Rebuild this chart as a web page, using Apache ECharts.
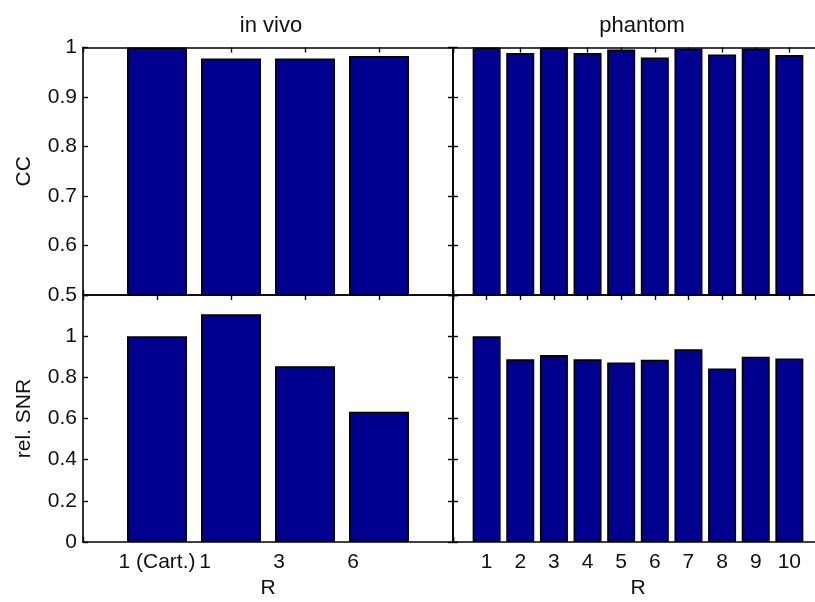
<!DOCTYPE html>
<html>
<head>
<meta charset="utf-8">
<script src="https://cdn.jsdelivr.net/npm/echarts@6/dist/echarts.min.js"></script>
<style>html,body{margin:0;padding:0;background:#fff;}#c{width:815px;height:602px;}</style>
</head>
<body>
<div id="c"></div>
<script>
// ---- data ----
const inVivoLabels = ['1 (Cart.)', '1', '3', '6'];
const inVivoCC = [1.0, 0.978, 0.978, 0.983];
const inVivoSNR = [1.0, 1.107, 0.854, 0.633];
const phantomLabels = ['1', '2', '3', '4', '5', '6', '7', '8', '9', '10'];
const phantomCC = [1.0, 0.989, 1.0, 0.989, 0.996, 0.980, 0.998, 0.986, 0.998, 0.985];
const phantomSNR = [1.0, 0.888, 0.908, 0.888, 0.872, 0.886, 0.937, 0.843, 0.900, 0.892];
const panelTitles = ['in vivo', 'phantom'];
const yNames = ['CC', 'rel. SNR'];
const xName = 'R';

// ---- style ----
const FONT = 'Liberation Sans, Arial, sans-serif';
const TXT = '#111';
const BAR = '#00008f';
const LINE = {show: true, onZero: false, lineStyle: {color: '#000', width: 1.6}};
const TICK = {show: true, inside: true, length: 5, lineStyle: {color: '#000', width: 1.4}};

const grids = [
  {left: 83, top: 47.5, width: 370, height: 247.5, outerBoundsMode: 'none'},
  {left: 453, top: 47.5, width: 370, height: 247.5, outerBoundsMode: 'none'},
  {left: 83, top: 295, width: 370, height: 247, outerBoundsMode: 'none'},
  {left: 453, top: 295, width: 370, height: 247, outerBoundsMode: 'none'}
];

const xAxis = [];
const yAxis = [];
const series = [];

function fmtY(v) { return String(+v.toFixed(1)); }

function addPanel(gi, labels, values, opts) {
  const n = labels.length;
  const xb = {
    type: 'value', gridIndex: gi, min: 0, max: n + 1, interval: 1, position: 'bottom',
    axisLine: LINE, axisTick: TICK, splitLine: {show: false},
    axisLabel: {show: !!opts.xLabels, margin: 10, fontFamily: FONT, fontSize: 21, color: TXT,
      formatter: function (v) {
        if (v < 1 || v > n) return '';
        const l = labels[v - 1];
        if (opts.shift && v > 1) return '{s|' + l + '}';
        return l;
      },
      rich: {s: {fontFamily: FONT, fontSize: 21, color: TXT, padding: [0, 52, 0, 0]}}
    }
  };
  if (opts.xLabels) {
    xb.name = xName; xb.nameLocation = 'middle'; xb.nameGap = 36;
    xb.nameTextStyle = {fontFamily: FONT, fontSize: 21, color: TXT};
  }
  xAxis.push(xb);
  xAxis.push({
    type: 'value', gridIndex: gi, min: 0, max: n + 1, interval: 1, position: 'top',
    axisLine: LINE, axisTick: TICK, splitLine: {show: false}, axisLabel: {show: false}
  });
  const yl = {
    type: 'value', gridIndex: gi, min: opts.ymin, max: opts.ymax, interval: opts.yint, position: 'left',
    axisLine: LINE, axisTick: TICK, splitLine: {show: false},
    axisLabel: {show: !!opts.yLabels, margin: 6, fontFamily: FONT, fontSize: 21, color: TXT,
      showMinLabel: true, showMaxLabel: true,
      formatter: function (v) { return (opts.yHideAbove !== undefined && v > opts.yHideAbove + 1e-9) ? '' : fmtY(v); }
    }
  };
  if (opts.yName) {
    yl.name = opts.yName; yl.nameLocation = 'middle'; yl.nameGap = 48;
    yl.nameTextStyle = {fontFamily: FONT, fontSize: 21, color: TXT};
  }
  yAxis.push(yl);
  yAxis.push({
    type: 'value', gridIndex: gi, min: opts.ymin, max: opts.ymax, interval: opts.yint, position: 'right',
    axisLine: LINE, axisTick: TICK, splitLine: {show: false}, axisLabel: {show: false}
  });
  series.push({
    type: 'bar', xAxisIndex: xAxis.length - 2, yAxisIndex: yAxis.length - 2,
    barWidth: opts.barWidth, clip: true,
    itemStyle: {color: BAR, borderColor: '#000', borderWidth: 1.6},
    data: labels.map(function (l, i) { return [i + 1, values[i]]; })
  });
}

addPanel(0, inVivoLabels, inVivoCC, {ymin: 0.5, ymax: 1, yint: 0.1, yLabels: true, yName: yNames[0], barWidth: 60});
addPanel(1, phantomLabels, phantomCC, {ymin: 0.5, ymax: 1, yint: 0.1, barWidth: 28});
addPanel(2, inVivoLabels, inVivoSNR, {ymin: 0, ymax: 1.2, yint: 0.2, yLabels: true, yHideAbove: 1, yName: yNames[1], xLabels: true, shift: true, barWidth: 60});
addPanel(3, phantomLabels, phantomSNR, {ymin: 0, ymax: 1.2, yint: 0.2, xLabels: true, barWidth: 28});

const option = {
  backgroundColor: '#fff',
  animation: false,
  title: [
    {text: panelTitles[0], left: 266, top: 10, textAlign: 'center', textStyle: {fontFamily: FONT, fontSize: 22, fontWeight: 'normal', color: TXT}},
    {text: panelTitles[1], left: 637, top: 10, textAlign: 'center', textStyle: {fontFamily: FONT, fontSize: 22, fontWeight: 'normal', color: TXT}}
  ],
  grid: grids,
  xAxis: xAxis,
  yAxis: yAxis,
  series: series
};

const chart = echarts.init(document.getElementById('c'), null, {renderer: 'canvas'});
chart.setOption(option);
</script>
</body>
</html>
